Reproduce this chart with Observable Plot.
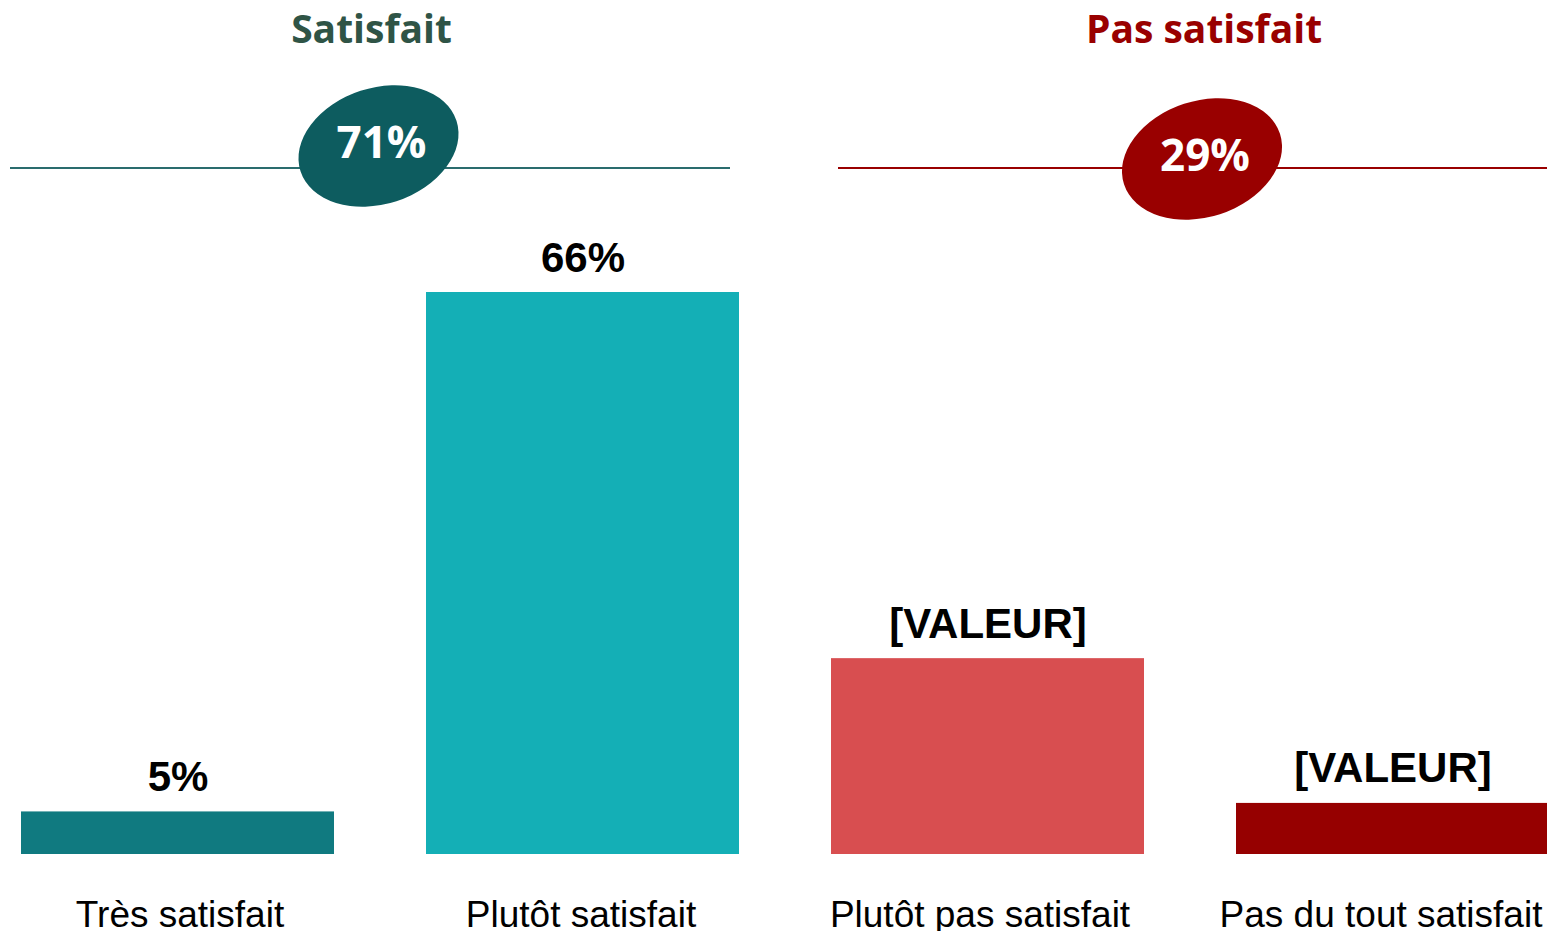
<!DOCTYPE html>
<html><head><meta charset="utf-8">
<script src="https://cdn.jsdelivr.net/npm/d3@7"></script>
<script src="https://cdn.jsdelivr.net/npm/@observablehq/plot@0.6"></script>
<style>body{margin:0;background:#fff;overflow:hidden}</style>
</head><body><div id="chart"></div>
<script>
const categories = ["Très satisfait", "Plutôt satisfait", "Plutôt pas satisfait", "Pas du tout satisfait"];
const values = [5, 66, 23, 6];
const valueLabels = ["5%", "66%", "[VALEUR]", "[VALEUR]"];
const barColors = ["#107A80", "#14AFB6", "#D84E50", "#960000"];
const groups = ["Satisfait", "Pas satisfait"];
const groupTotals = ["71%", "29%"];
const groupMembers = [[0, 1], [2, 3]];
const groupFill = ["#0D5C5F", "#990000"];
const headerColors = ["#2F5446", "#990000"];
const lineColors = ["#2A6C6E", "#990000"];

const data = categories.map((c, i) => ({category: c, value: values[i], label: valueLabels[i], color: barColors[i]}));

function groupDecor(index, scales, vals, dims) {
  const x = scales.x, bw = x.bandwidth();
  const lineOff = [[-11, -9], [7, -2]];
  const ellOff = [-1.5, 12];
  const ellY = [146, 159];
  const headOff = [-8.5, 14];
  const totOff = [1.5, 15];
  const g = d3.create("svg:g");
  groups.forEach((name, gi) => {
    const mem = groupMembers[gi].map(i => categories[i]);
    const x0 = x(mem[0]), x1 = x(mem[mem.length - 1]) + bw;
    const cx = (x0 + x1) / 2;
    g.append("line")
      .attr("x1", x0 + lineOff[gi][0]).attr("x2", x1 + lineOff[gi][1])
      .attr("y1", 168).attr("y2", 168)
      .attr("stroke", lineColors[gi]).attr("stroke-width", 2);
    g.append("ellipse")
      .attr("cx", 0).attr("cy", 0).attr("rx", 82).attr("ry", 58)
      .attr("transform", `translate(${cx + ellOff[gi]},${ellY[gi]}) rotate(-18)`)
      .attr("fill", groupFill[gi]);
    g.append("text")
      .attr("x", cx + totOff[gi]).attr("y", ellY[gi] + 12)
      .attr("text-anchor", "middle")
      .attr("font-family", "'Open Sans', sans-serif").attr("font-weight", "bold")
      .attr("font-size", 44).attr("fill", "white")
      .text(groupTotals[gi]);
    g.append("text")
      .attr("x", cx + headOff[gi]).attr("y", 43)
      .attr("text-anchor", "middle")
      .attr("font-family", "'Open Sans', sans-serif").attr("font-weight", "bold")
      .attr("font-size", 39).attr("fill", headerColors[gi])
      .text(name);
  });
  return g.node();
}

const labelShift = [2, -2, -8, -12];

const chart = Plot.plot({
  width: 1547,
  height: 931,
  marginTop: 0,
  marginBottom: 77,
  marginLeft: 0,
  marginRight: 0,
  style: {fontFamily: "'Liberation Sans', Arial, sans-serif", background: "#fff", overflow: "visible"},
  x: {domain: categories, range: [21, 1549], paddingInner: 0.228, paddingOuter: 0, axis: null},
  y: {domain: [0, 66], range: [854, 292], axis: null},
  marks: [
    Plot.barY(data, {x: "category", y: "value", fill: "color"}),
    Plot.text(data, {x: "category", y: "value", text: "label", lineAnchor: "bottom", dy: -21,
      fontSize: 42, fontWeight: "bold", fill: "black"}),
    ...categories.map((c, i) => Plot.text([c], {x: d => d, text: d => d, frameAnchor: "bottom",
      lineAnchor: "bottom", dy: 72, dx: labelShift[i], fontSize: 37, fill: "black"})),
    groupDecor
  ]
});
document.getElementById("chart").appendChild(chart);
</script>
</body></html>
